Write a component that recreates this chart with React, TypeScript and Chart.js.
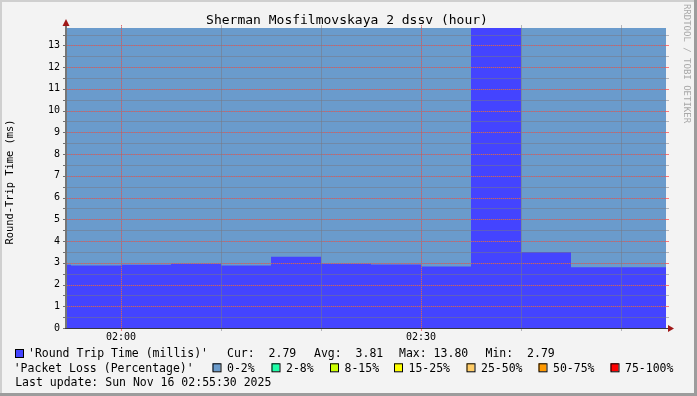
import React, { useEffect, useRef } from 'react';
import { Chart, registerables } from 'chart.js';

Chart.register(...registerables);

// ---------- data ----------
const TITLE = 'Sherman Mosfilmovskaya 2 dssv (hour)';
const Y_TITLE = 'Round-Trip Time (ms)';
const WATERMARK = 'RRDTOOL / TOBI OETIKER';

const stepTimes = ['01:50', '01:55', '02:00', '02:05', '02:10', '02:15', '02:20', '02:25', '02:30', '02:35', '02:40', '02:45', '02:50'];
const rttValues = [2.91, 2.87, 2.91, 2.96, 2.87, 3.28, 2.96, 2.92, 2.83, 13.8, 3.5, 2.79, 2.79];
const lossPct = [0, 0, 0, 0, 0, 0, 0, 0, 0, 0, 0, 0, 0];

const windowStart = '01:54:36';
const windowEnd = '02:54:30';
const xTickLabels = ['02:00', '02:30'];
const xGridTimes = ['02:00', '02:10', '02:20', '02:30', '02:40', '02:50'];
const yMax = 13.8;
const yTickValues = [0, 1, 2, 3, 4, 5, 6, 7, 8, 9, 10, 11, 12, 13];

const rttLegend = "'Round Trip Time (millis)'";
const statLabels = ['Cur:', 'Avg:', 'Max:', 'Min:'];
const statValues = ['2.79', '3.81', '13.80', '2.79'];
const lossLegendTitle = "'Packet Loss (Percentage)'";
const lossBuckets = ['0-2%', '2-8%', '8-15%', '15-25%', '25-50%', '50-75%', '75-100%'];
const lossBucketMax = [2, 8, 15, 25, 50, 75, 100];
const lastUpdate = 'Last update: Sun Nov 16 02:55:30 2025';

// ---------- styles ----------
const RTT_COLOR = '#4444FF';
const LOSS_COLORS = ['#6A9BCC', '#1EFFA8', '#CCFF00', '#FFFF00', '#FFCC66', '#FF9900', '#FF0000'];
const BG = '#F3F3F3';
const MONO = '"DejaVu Sans Mono", monospace';
const MINOR = 'rgba(120,120,130,0.5)';
const MAJOR = 'rgba(255,80,80,0.75)';

const toMin = (t: string) => {
  const p = t.split(':').map(Number);
  return p[0] * 60 + p[1] + (p[2] || 0) / 60;
};
const fmt = (m: number) => {
  const h = Math.floor(m / 60);
  const mm = Math.round(m - h * 60);
  return String(h).padStart(2, '0') + ':' + String(mm).padStart(2, '0');
};
const lossColor = (pct: number) => {
  const i = lossBucketMax.findIndex((m) => pct <= m);
  return LOSS_COLORS[i < 0 ? LOSS_COLORS.length - 1 : i];
};

const X_MIN = toMin(windowStart);
const X_MAX = toMin(windowEnd);

const rttPoints = [
  ...stepTimes.map((t, i) => ({ x: toMin(t), y: rttValues[i] })),
  { x: X_MAX, y: rttValues[rttValues.length - 1] },
];
const lossPoints = [
  ...stepTimes.map((t) => ({ x: toMin(t), y: yMax })),
  { x: X_MAX, y: yMax },
];

const drawGrid = (chart: any) => {
  const { ctx, chartArea, scales } = chart;
  const { left, right, top, bottom } = chartArea;
  const x = scales.x;
  const y = scales.y;
  const L = Math.round(left);
  const R = Math.round(right);
  const T = Math.round(top);
  const B = Math.round(bottom);
  ctx.save();
  // horizontal grid
  for (let v = 0.5; v < yMax; v += 0.5) {
    const py = Math.round(y.getPixelForValue(v));
    const major = Math.abs(v - Math.round(v)) < 1e-6;
    ctx.fillStyle = MINOR;
    ctx.fillRect(L, py, R - L, 1);
    if (major) {
      ctx.fillStyle = MAJOR;
      for (let px = L; px < R; px += 2) ctx.fillRect(px, py, 1, 1);
    }
  }
  // vertical grid
  xGridTimes.forEach((t) => {
    const m = toMin(t);
    const px = Math.round(x.getPixelForValue(m));
    const major = Math.round(m) % 30 === 0;
    ctx.fillStyle = MINOR;
    ctx.fillRect(px, T - 3, 1, B - T + 3);
    if (major) {
      ctx.fillStyle = MAJOR;
      for (let py = T - 3; py < B; py += 2) ctx.fillRect(px, py, 1, 1);
    }
  });
  // tick marks on y axis
  for (let v = 0; v <= yMax; v += 0.5) {
    const py = Math.round(y.getPixelForValue(v));
    const major = Math.abs(v - Math.round(v)) < 1e-6;
    ctx.fillStyle = '#707070';
    ctx.fillRect(L - 4, py, 4, 1);
    ctx.fillStyle = major ? MAJOR : MINOR;
    ctx.fillRect(R, py, 3, 1);
  }
  // tick marks on x axis
  xGridTimes.forEach((t) => {
    const m = toMin(t);
    const px = Math.round(x.getPixelForValue(m));
    const major = Math.round(m) % 30 === 0;
    ctx.fillStyle = major ? MAJOR : MINOR;
    ctx.fillRect(px, B, 1, 3);
  });
  // axes
  ctx.fillStyle = '#767676';
  ctx.fillRect(L - 2, T - 6, 2, B - T + 7);
  ctx.fillStyle = '#353545';
  ctx.fillRect(L - 2, B, R - L + 6, 1);
  // arrows
  ctx.fillStyle = '#A01818';
  ctx.beginPath();
  ctx.moveTo(L - 1, T - 9);
  ctx.lineTo(L - 4.5, T - 2);
  ctx.lineTo(L + 2.5, T - 2);
  ctx.closePath();
  ctx.fill();
  ctx.beginPath();
  ctx.moveTo(R + 8, B + 0.5);
  ctx.lineTo(R + 2, B - 3);
  ctx.lineTo(R + 2, B + 4);
  ctx.closePath();
  ctx.fill();
  ctx.restore();
};

const rrdPlugin = {
  id: 'rrd',
  beforeDraw(chart: any) {
    const { ctx, width, height } = chart;
    ctx.save();
    ctx.fillStyle = BG;
    ctx.fillRect(0, 0, width, height);
    ctx.fillStyle = '#CFCFCF';
    ctx.fillRect(0, 0, width, 2);
    ctx.fillRect(0, 0, 2, height);
    ctx.fillStyle = '#9C9C9C';
    ctx.fillRect(width - 3, 0, 3, height);
    ctx.fillRect(0, height - 3, width, 3);
    ctx.restore();
  },
  afterDraw(chart: any) {
    drawGrid(chart);
    const { ctx } = chart;
    ctx.save();
    ctx.fillStyle = '#000';
    // title
    ctx.font = `13px ${MONO}`;
    ctx.textAlign = 'center';
    ctx.textBaseline = 'alphabetic';
    ctx.fillText(TITLE, 347, 24);
    // y title
    ctx.save();
    ctx.translate(10.5, 182);
    ctx.rotate(-Math.PI / 2);
    ctx.font = `10.4px ${MONO}`;
    ctx.textBaseline = 'middle';
    ctx.textAlign = 'center';
    ctx.fillText(Y_TITLE, 0, 0);
    ctx.restore();
    // watermark
    ctx.save();
    ctx.translate(686, 63.5);
    ctx.rotate(Math.PI / 2);
    ctx.font = `9px ${MONO}`;
    ctx.fillStyle = '#A8A8A8';
    ctx.textBaseline = 'middle';
    ctx.textAlign = 'center';
    ctx.fillText(WATERMARK, 0, 0);
    ctx.restore();
    // legend
    ctx.font = `11.5px ${MONO}`;
    ctx.textAlign = 'left';
    ctx.textBaseline = 'alphabetic';
    const box = (bx: number, by: number, color: string) => {
      ctx.fillStyle = color;
      ctx.fillRect(bx, by, 8, 8);
      ctx.strokeStyle = '#000';
      ctx.lineWidth = 1;
      ctx.strokeRect(bx + 0.5, by + 0.5, 8, 8);
      ctx.fillStyle = '#000';
    };
    const L1 = 357.3;
    const L2 = 371.5;
    const L3 = 385.7;
    box(15, 349, RTT_COLOR);
    ctx.fillText(rttLegend, 28, L1);
    const statX = [227, 314, 399, 485.5];
    statLabels.forEach((lab, i) => {
      ctx.fillText(`${lab} ${statValues[i].padStart(5)}`, statX[i], L1);
    });
    ctx.fillText(lossLegendTitle, 13.7, L2);
    const bucketX = [212.5, 271.5, 330, 394, 466.5, 538.5, 610.5];
    lossBuckets.forEach((b, i) => {
      box(bucketX[i], 363.3, LOSS_COLORS[i]);
      ctx.fillText(b, bucketX[i] + 14.5, L2);
    });
    ctx.fillText(lastUpdate, 15.2, L3);
    ctx.restore();
  },
};

export default function App() {
  const ref = useRef<HTMLCanvasElement | null>(null);
  useEffect(() => {
    if (!ref.current) return;
    const chart = new Chart(ref.current, {
      type: 'line',
      data: {
        datasets: [
          {
            label: 'Packet Loss',
            data: lossPoints,
            stepped: 'before',
            fill: 'origin',
            borderWidth: 0,
            pointRadius: 0,
            backgroundColor: lossColor(lossPct[0]),
            segment: {
              backgroundColor: (c: any) => lossColor(lossPct[Math.min(c.p0DataIndex, lossPct.length - 1)]),
            },
            order: 2,
          },
          {
            label: 'Round Trip Time (millis)',
            data: rttPoints,
            stepped: 'before',
            fill: 'origin',
            borderWidth: 0,
            pointRadius: 0,
            backgroundColor: RTT_COLOR,
            order: 1,
          },
        ],
      },
      options: {
        responsive: false,
        devicePixelRatio: 1,
        animation: false,
        events: [],
        layout: { padding: { left: 0, top: 28, right: 31, bottom: 48 } },
        plugins: { legend: { display: false }, title: { display: false }, tooltip: { enabled: false } },
        scales: {
          x: {
            type: 'linear',
            min: X_MIN,
            max: X_MAX,
            grid: { display: false, drawTicks: false },
            border: { display: false },
            afterBuildTicks: (s: any) => {
              s.ticks = xTickLabels.map((t) => ({ value: toMin(t) }));
            },
            afterFit: (s: any) => {
              s.height = 20;
            },
            ticks: {
              autoSkip: false,
              maxRotation: 0,
              padding: 3,
              color: '#000',
              font: { family: MONO, size: 10 },
              callback: (v: any) => fmt(Number(v)),
            },
          },
          y: {
            min: 0,
            max: yMax,
            grid: { display: false, drawTicks: false },
            border: { display: false },
            afterBuildTicks: (s: any) => {
              s.ticks = yTickValues.map((v) => ({ value: v }));
            },
            afterFit: (s: any) => {
              s.width = 67;
            },
            ticks: {
              padding: 7,
              color: '#000',
              font: { family: MONO, size: 10 },
              callback: (v: any) => String(v),
            },
          },
        },
      },
      plugins: [rrdPlugin],
    } as any);
    return () => chart.destroy();
  }, []);
  return (
    <div style={{ position: 'absolute', left: 0, top: 0, width: 697, height: 396 }}>
      <canvas ref={ref} width={697} height={396} style={{ display: 'block', width: 697, height: 396 }} />
    </div>
  );
}
